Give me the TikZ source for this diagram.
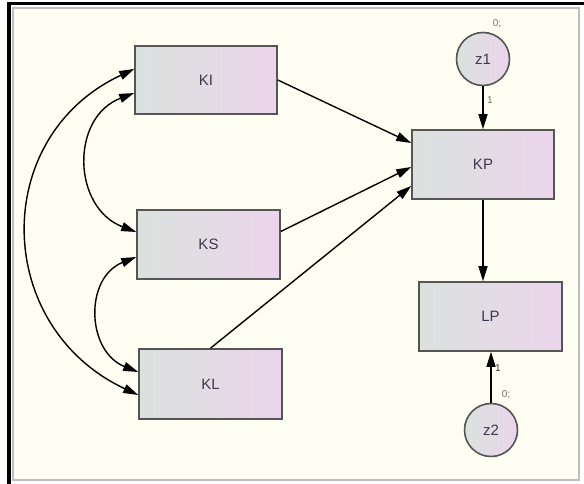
\documentclass[tikz,border=0pt]{standalone}
\usepackage{fontspec}
\setmainfont{Liberation Sans}
\usetikzlibrary{arrows.meta,calc}
\definecolor{panel}{RGB}{254,254,242}
\definecolor{panelrule}{RGB}{190,190,190}
\definecolor{boxL}{RGB}{219,226,222}
\definecolor{boxR}{RGB}{235,213,235}
\definecolor{boxrule}{RGB}{85,85,85}
\definecolor{labelink}{RGB}{58,58,78}
\definecolor{smallink}{RGB}{110,110,110}
\tikzset{
  varbox/.style={draw=boxrule, line width=1.6pt, left color=boxL, right color=boxR,
    minimum width=142pt, minimum height=68pt, inner sep=0pt,
    text=labelink, font=\fontsize{15}{17}\selectfont},
  errnode/.style={circle, draw=boxrule, line width=1.6pt, left color=boxL, right color=boxR,
    minimum size=53pt, inner sep=0pt, text=labelink, font=\fontsize{15}{17}\selectfont},
  path/.style={draw=black, line width=1.4pt, -{Triangle[length=15pt,width=9pt]}},
  cov/.style={draw=black, line width=1.4pt,
    {Triangle[length=15pt,width=9pt]}-{Triangle[length=15pt,width=9pt]}},
  tiny/.style={font=\fontsize{10}{11}\selectfont, text=smallink, inner sep=0pt}
}
\begin{document}
\begin{tikzpicture}[x=1pt,y=-1pt]
\useasboundingbox (0,0) rectangle (584,484);
% window background and panel
\fill[white] (0,0) rectangle (584,484);
\draw[draw=panelrule, fill=panel, line width=1.2pt] (13,8) rectangle (579,480);
\draw[black, line width=3.5pt] (7,3.5) -- (584,3.5);
\draw[black, line width=3.5pt] (9,2) -- (9,484);

% observed variables
\node[varbox, minimum width=142pt, minimum height=68pt] (KI) at (206,80) {KI};
\node[varbox, minimum width=143pt, minimum height=69pt] (KS) at (208.5,244.5) {KS};
\node[varbox, minimum width=143pt, minimum height=70pt] (KL) at (210.5,384) {KL};
\node[varbox, minimum width=142pt, minimum height=69pt] (KP) at (483,164.5) {KP};
\node[varbox, minimum width=143pt, minimum height=69pt] (LP) at (490.5,316.5) {LP};

% error terms
\node[errnode] (z1) at (483,59) {z1};
\node[errnode] (z2) at (491,430) {z2};

% attachment points on the left sides
\coordinate (KIa) at ([yshift=11pt]KI.west);
\coordinate (KIb) at ([yshift=-13pt]KI.west);
\coordinate (KSa) at ([yshift=12.5pt]KS.west);
\coordinate (KSb) at ([yshift=-12.5pt]KS.west);
\coordinate (KLa) at ([yshift=12pt]KL.west);
\coordinate (KLb) at ([yshift=-11pt]KL.west);

% covariances
\draw[cov] (KIa) .. controls +(-145,68) and +(-145,-68) .. (KLb);
\draw[cov] (KIb) .. controls +(-64,24.5) and +(-64,-24.5) .. (KSa);
\draw[cov] (KSb) .. controls +(-52,20.7) and +(-52,-20.7) .. (KLa);

% regression paths
\draw[path] (KI.east) -- ([yshift=21.5pt]KP.west);
\draw[path] ([yshift=13pt]KS.east) -- ([yshift=-2.5pt]KP.west);
\draw[path] (KL.north) -- ([yshift=-21.5pt]KP.west);
\draw[path] (KP.south) -- (KP.south |- LP.north);
\draw[path] (z1) -- (z1 |- KP.north);
\draw[path] (z2) -- (z2 |- LP.south);

% parameter labels
\node[tiny] (m1) at (497,24) {0;};
\node[tiny] (w1) at (490,100) {1};
\node[tiny] (m2) at (506,395) {0;};
\node[tiny, text=black!80] (w2) at (498,368) {1};
\end{tikzpicture}
\end{document}
